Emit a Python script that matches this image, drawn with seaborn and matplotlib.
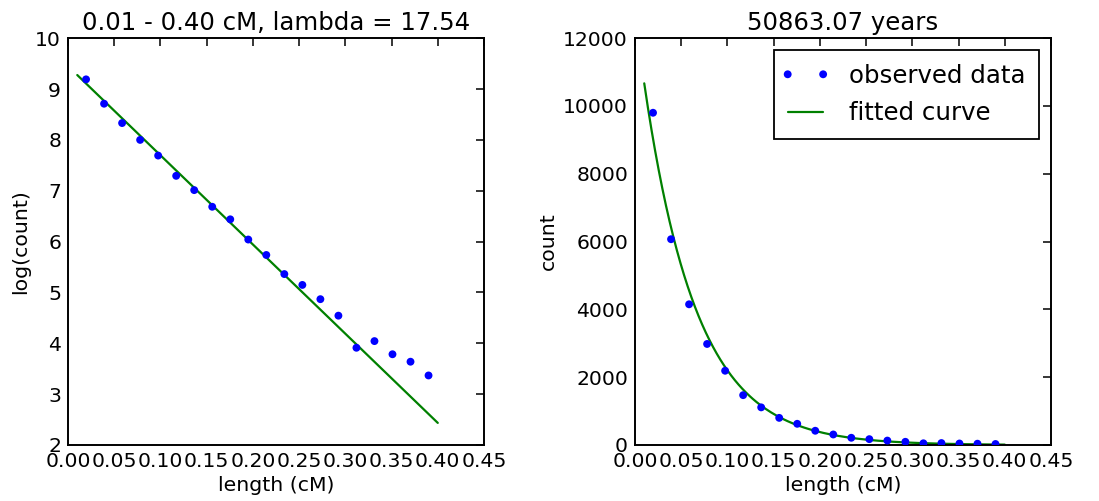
import numpy as np
import pandas as pd
import matplotlib
matplotlib.use("Agg")
import matplotlib.pyplot as plt
from matplotlib.collections import PathCollection
from matplotlib.legend_handler import HandlerPathCollection
import seaborn as sns

# ---- data ----
bin_centers = [0.0195, 0.039, 0.0585, 0.078, 0.0975, 0.117, 0.1365, 0.156, 0.1755, 0.195,
               0.2145, 0.234, 0.2535, 0.273, 0.2925, 0.312, 0.3315, 0.351, 0.3705, 0.39]
counts = [9800, 6070, 4150, 2980, 2190, 1470, 1110, 800, 625, 420,
          310, 213, 172, 130, 94, 50, 57, 44, 38, 29]

# fitted exponential model: count = exp(log_amp - lam * (x - fit_start))
fit_start = 0.01
fit_end = 0.40
lam = 17.54
log_amp = 9.275
years = 50863.07

left_title = "0.01 - 0.40 cM, lambda = 17.54"
right_title = "50863.07 years"
xticks = [0.00, 0.05, 0.10, 0.15, 0.20, 0.25, 0.30, 0.35, 0.40, 0.45]
left_yticks = [2, 3, 4, 5, 6, 7, 8, 9, 10]
right_yticks = [0, 2000, 4000, 6000, 8000, 10000, 12000]

# ---- derived ----
df = pd.DataFrame({"x": bin_centers, "count": counts})
df["logcount"] = np.log(df["count"])
fit_x = np.linspace(fit_start, fit_end, 200)
fit_log = log_amp - lam * (fit_x - fit_start)
fit_df = pd.DataFrame({"x": fit_x, "log": fit_log, "count": np.exp(fit_log)})

FS = 14.7
FL = 17.6

sns.set_style("white")
plt.rcParams["font.family"] = ["DejaVu Sans"]
plt.rcParams.update({
    "font.size": FS,
    "axes.linewidth": 1.4,
    "axes.edgecolor": "black",
    "xtick.direction": "in",
    "ytick.direction": "in",
    "xtick.top": True,
    "ytick.right": True,
    "xtick.major.size": 6,
    "ytick.major.size": 6,
    "xtick.major.width": 1.1,
    "ytick.major.width": 1.1,
    "xtick.major.pad": 5,
    "ytick.major.pad": 5,
    "xtick.color": "black",
    "ytick.color": "black",
    "text.color": "black",
    "axes.labelcolor": "black",
})

fig = plt.figure(figsize=(10.99, 5.01), dpi=100)
ax1 = fig.add_axes([0.0619, 0.1118, 0.3785, 0.812])
ax2 = fig.add_axes([0.5778, 0.1118, 0.3785, 0.812])

dot_color = "#0000ff"
line_color = "#008000"

# left: log(count)
sns.scatterplot(data=df, x="x", y="logcount", ax=ax1, color=dot_color, s=32,
                edgecolor="none", zorder=3)
sns.lineplot(data=fit_df, x="x", y="log", ax=ax1, color=line_color, linewidth=1.6,
             errorbar=None, zorder=2)
ax1.set_xlim(0, 0.45)
ax1.set_ylim(2, 10)
ax1.set_xticks(xticks)
ax1.set_xticklabels([f"{t:.2f}" for t in xticks])
ax1.set_yticks(left_yticks)
ax1.set_xlabel("length (cM)", fontsize=FS)
ax1.set_ylabel("log(count)", fontsize=FS)
ax1.set_title(left_title, fontsize=FL, pad=6)

# right: count
sns.scatterplot(data=df, x="x", y="count", ax=ax2, color=dot_color, s=32,
                edgecolor="none", zorder=3, label="observed data")
sns.lineplot(data=fit_df, x="x", y="count", ax=ax2, color=line_color, linewidth=1.6,
             errorbar=None, zorder=2, label="fitted curve")
ax2.set_xlim(0, 0.45)
ax2.set_ylim(0, 12000)
ax2.set_xticks(xticks)
ax2.set_xticklabels([f"{t:.2f}" for t in xticks])
ax2.set_yticks(right_yticks)
ax2.set_xlabel("length (cM)", fontsize=FS)
ax2.set_ylabel("count", fontsize=FS)
ax2.set_title(right_title, fontsize=FL, pad=6)
leg = ax2.legend(loc="upper right", scatterpoints=2, scatteryoffsets=[0.5],
                 fancybox=False, framealpha=1,
                 edgecolor="black", fontsize=FL, borderaxespad=0.5, handlelength=1.45,
                 handletextpad=1.05, borderpad=0.55, labelspacing=0.55,
                 handler_map={PathCollection: HandlerPathCollection(marker_pad=0.0)})
leg.get_frame().set_linewidth(1.3)

for ax in (ax1, ax2):
    for sp in ax.spines.values():
        sp.set_visible(True)
        sp.set_color("black")
    ax.tick_params(labelsize=FS)

fig.savefig("out.png", dpi=100)
